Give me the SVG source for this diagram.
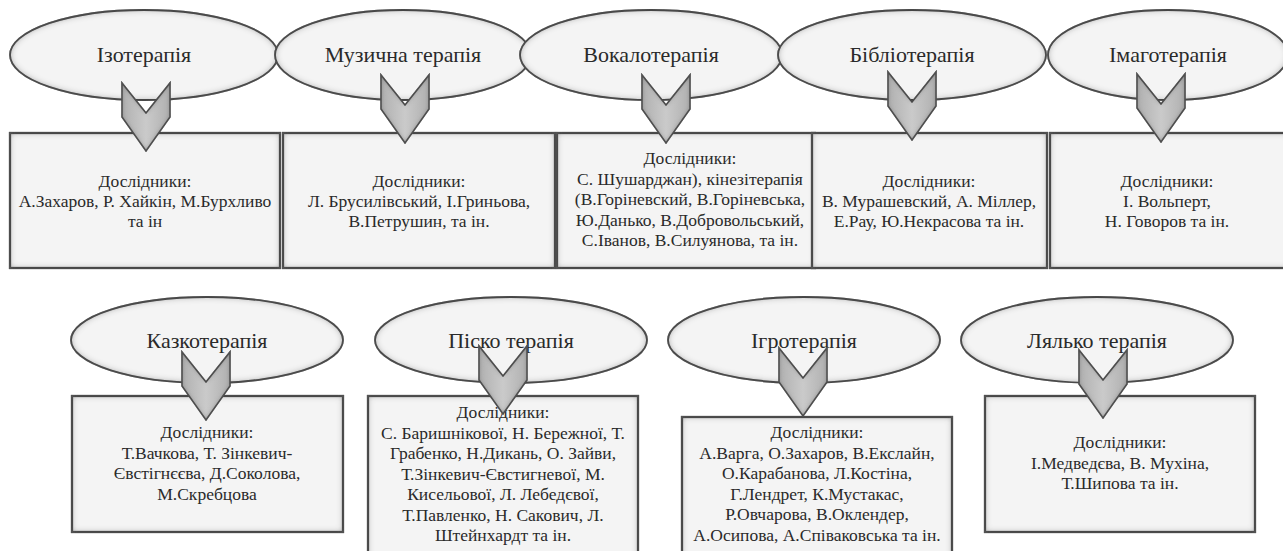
<svg xmlns="http://www.w3.org/2000/svg" width="1283" height="551" viewBox="0 0 1283 551">
<defs>
<filter id="inset" x="-5%" y="-5%" width="110%" height="110%">
<feFlood flood-color="#5e5e5e" result="c"/>
<feComposite in="c" in2="SourceAlpha" operator="out" result="inv"/>
<feGaussianBlur in="inv" stdDeviation="3.5" result="blur"/>
<feComposite in="blur" in2="SourceAlpha" operator="in" result="shadow"/>
<feMerge><feMergeNode in="SourceGraphic"/><feMergeNode in="shadow"/></feMerge>
</filter>
<filter id="insetS" x="-10%" y="-10%" width="120%" height="120%">
<feFlood flood-color="#555555" result="c"/>
<feComposite in="c" in2="SourceAlpha" operator="out" result="inv"/>
<feGaussianBlur in="inv" stdDeviation="2.5" result="blur"/>
<feComposite in="blur" in2="SourceAlpha" operator="in" result="shadow"/>
<feMerge><feMergeNode in="SourceGraphic"/><feMergeNode in="shadow"/></feMerge>
</filter>
<linearGradient id="chev" x1="0" y1="0" x2="1" y2="0">
<stop offset="0" stop-color="#b0b0b0"/>
<stop offset="0.5" stop-color="#cacaca"/>
<stop offset="1" stop-color="#b0b0b0"/>
</linearGradient>
<path id="chv" d="M-24,0 L0,30 L24,0 L24,34 L0,68 L-24,34 Z"/>
</defs>
<style>
.el{fill:#f4f4f4;stroke:#3a3a3a;stroke-width:1.8;filter:url(#inset)}
.bx{fill:#f4f4f4;stroke:#3a3a3a;stroke-width:2.2;filter:url(#inset)}
.cv{fill:url(#chev);stroke:#4a4a4a;stroke-width:1.5;filter:url(#insetS)}
.t{font-family:'Liberation Serif',Tinos,'DejaVu Serif',serif;fill:#2a2a2a;text-anchor:middle}
.tt{font-size:22px}
.bt{font-size:17.5px}
</style>
<rect width="1283" height="551" fill="#ffffff"/>

<g id="n-izo">
<ellipse class="el" cx="144" cy="55" rx="134" ry="45"/>
<text class="t tt" x="144" y="62">Ізотерапія</text>
</g>
<g id="n-muz">
<ellipse class="el" cx="403" cy="55" rx="128" ry="45"/>
<text class="t tt" x="403" y="62">Музична терапія</text>
</g>
<g id="n-vok">
<ellipse class="el" cx="651" cy="55" rx="131" ry="45"/>
<text class="t tt" x="651" y="62">Вокалотерапія</text>
</g>
<g id="n-bib">
<ellipse class="el" cx="912" cy="55" rx="134" ry="45"/>
<text class="t tt" x="912" y="62">Бібліотерапія</text>
</g>
<g id="n-ima">
<ellipse class="el" cx="1168" cy="55" rx="120" ry="45"/>
<text class="t tt" x="1168" y="62">Імаготерапія</text>
</g>

<g id="b-izo">
<rect class="bx" x="10" y="133" width="270" height="135"/>
<text class="t bt" x="145" y="187">Дослідники:</text>
<text class="t bt" x="145" y="207">А.Захаров, Р. Хайкін, М.Бурхливо</text>
<text class="t bt" x="145" y="227">та ін</text>
</g>
<g id="b-muz">
<rect class="bx" x="283" y="133" width="272" height="135"/>
<text class="t bt" x="419" y="187">Дослідники:</text>
<text class="t bt" x="419" y="207">Л. Брусилівський, І.Гриньова,</text>
<text class="t bt" x="419" y="227">В.Петрушин, та ін.</text>
</g>
<g id="b-vok">
<rect class="bx" x="557" y="133" width="258" height="135"/>
<text class="t bt" x="690" y="164">Дослідники:</text>
<text class="t bt" x="690" y="184.5">С. Шушарджан), кінезітерапія</text>
<text class="t bt" x="690" y="205">(В.Горіневский, В.Горіневська,</text>
<text class="t bt" x="690" y="225.5">Ю.Данько, В.Добровольський,</text>
<text class="t bt" x="690" y="246">С.Іванов, В.Силуянова, та ін.</text>
</g>
<g id="b-bib">
<rect class="bx" x="812" y="133" width="235" height="135"/>
<text class="t bt" x="929" y="187">Дослідники:</text>
<text class="t bt" x="929" y="207">В. Мурашевский, А. Міллер,</text>
<text class="t bt" x="929" y="227">Е.Рау, Ю.Некрасова та ін.</text>
</g>
<g id="b-ima">
<rect class="bx" x="1050" y="133" width="240" height="135"/>
<text class="t bt" x="1167" y="187">Дослідники:</text>
<text class="t bt" x="1167" y="207">І. Вольперт,</text>
<text class="t bt" x="1167" y="227">Н. Говоров та ін.</text>
</g>

<g id="n-kaz">
<ellipse class="el" cx="207" cy="340" rx="136" ry="43"/>
<text class="t tt" x="207" y="348">Казкотерапія</text>
</g>
<g id="n-pis">
<ellipse class="el" cx="511" cy="340" rx="136" ry="43"/>
<text class="t tt" x="511" y="348">Піско терапія</text>
</g>
<g id="n-igr">
<ellipse class="el" cx="804" cy="340" rx="136" ry="43"/>
<text class="t tt" x="804" y="348">Ігротерапія</text>
</g>
<g id="n-lya">
<ellipse class="el" cx="1097" cy="340" rx="136" ry="43"/>
<text class="t tt" x="1097" y="348">Лялько терапія</text>
</g>

<g id="b-kaz">
<rect class="bx" x="72" y="396" width="271" height="136"/>
<text class="t bt" x="207" y="438">Дослідники:</text>
<text class="t bt" x="207" y="458.5">Т.Вачкова, Т. Зінкевич-</text>
<text class="t bt" x="207" y="479">Євстігнєєва, Д.Соколова,</text>
<text class="t bt" x="207" y="499.5">М.Скребцова</text>
</g>
<g id="b-pis">
<rect class="bx" x="368" y="396" width="270" height="170"/>
<text class="t bt" x="503" y="418">Дослідники:</text>
<text class="t bt" x="503" y="438.5">С. Баришнікової, Н. Бережної, Т.</text>
<text class="t bt" x="503" y="459">Грабенко, Н.Дикань, О. Зайви,</text>
<text class="t bt" x="503" y="479.5">Т.Зінкевич-Євстигневої, М.</text>
<text class="t bt" x="503" y="500">Кисельової, Л. Лебедєвої,</text>
<text class="t bt" x="503" y="520.5">Т.Павленко, Н. Сакович, Л.</text>
<text class="t bt" x="503" y="541">Штейнхардт та ін.</text>
</g>
<g id="b-igr">
<rect class="bx" x="682" y="417" width="270" height="150"/>
<text class="t bt" x="817" y="438">Дослідники:</text>
<text class="t bt" x="817" y="458.5">А.Варга, О.Захаров, В.Екслайн,</text>
<text class="t bt" x="817" y="479">О.Карабанова, Л.Костіна,</text>
<text class="t bt" x="817" y="499.5">Г.Лендрет, К.Мустакас,</text>
<text class="t bt" x="817" y="520">Р.Овчарова, В.Оклендер,</text>
<text class="t bt" x="817" y="540.5">А.Осипова, А.Співаковська та ін.</text>
</g>
<g id="b-lya">
<rect class="bx" x="985" y="396" width="270" height="136"/>
<text class="t bt" x="1120" y="448">Дослідники:</text>
<text class="t bt" x="1120" y="468.5">І.Медведєва, В. Мухіна,</text>
<text class="t bt" x="1120" y="489">Т.Шипова та ін.</text>
</g>

<g id="connectors">
<use href="#chv" class="cv" transform="translate(146,83)"/>
<use href="#chv" class="cv" transform="translate(405,75)"/>
<use href="#chv" class="cv" transform="translate(666,75)"/>
<use href="#chv" class="cv" transform="translate(912,72)"/>
<use href="#chv" class="cv" transform="translate(1161,74)"/>
<use href="#chv" class="cv" transform="translate(206,352)"/>
<use href="#chv" class="cv" transform="translate(503,346)"/>
<use href="#chv" class="cv" transform="translate(803,348)"/>
<use href="#chv" class="cv" transform="translate(1103,350)"/>
</g>
</svg>
